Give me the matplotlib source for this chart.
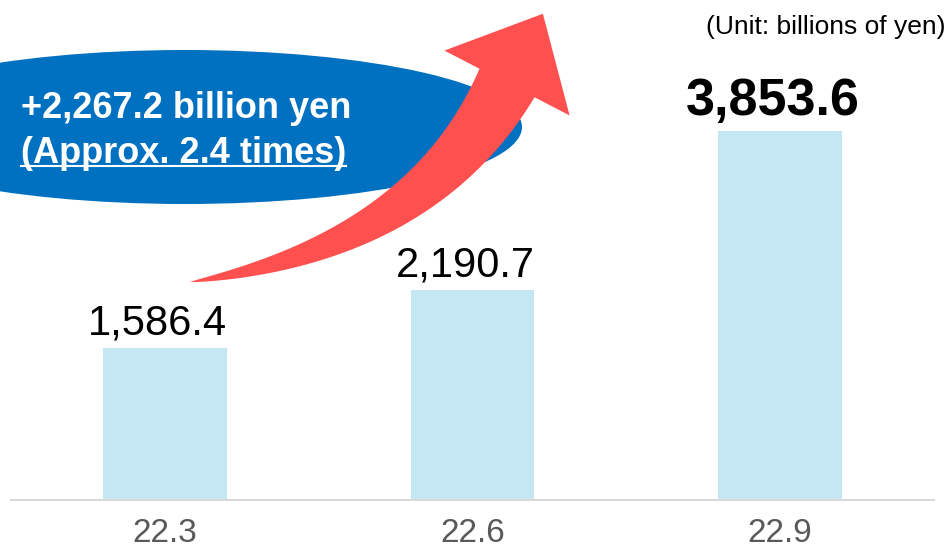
import numpy as np
import matplotlib.pyplot as plt
from matplotlib.patches import Ellipse, Polygon


periods = ['22.3', '22.6', '22.9']
balances = [1586.4, 2190.7, 3853.6]
increase_text = '+2,267.2 billion yen'
ratio_text = '(Approx. 2.4 times)'
unit_text = '(Unit: billions of yen)'

W, H = 948, 552
BAR_COLOR = '#C5E7F3'
BLUE = '#0070C0'
RED = '#FF5050'

plt.rcParams['font.family'] = ['Liberation Sans', 'DejaVu Sans']


def arrow_outline(tail, ctrl, neck, neck_width=62, head_width=141, head_len=78, n=80):
    # tapered shaft along a quadratic bezier, triangular head at the end
    t = np.linspace(0, 1, n)[:, None]
    p0, p1, p2 = (np.asarray(p, dtype=float) for p in (tail, ctrl, neck))
    pts = (1 - t) ** 2 * p0 + 2 * t * (1 - t) * p1 + t ** 2 * p2
    d = 2 * (1 - t) * (p1 - p0) + 2 * t * (p2 - p1)
    d = d / np.linalg.norm(d, axis=1, keepdims=True)
    nrm = np.column_stack([-d[:, 1], d[:, 0]])
    half = neck_width / 2 * t ** 0.8
    side_a = pts + nrm * half
    side_b = pts - nrm * half
    tip = p2 + d[-1] * head_len
    wing_a = p2 + nrm[-1] * head_width / 2
    wing_b = p2 - nrm[-1] * head_width / 2
    return np.vstack([side_a, wing_a, tip, wing_b, side_b[::-1]])


def main():
    fig = plt.figure(figsize=(W / 100, H / 100), dpi=100)

    ax = fig.add_axes([11 / W, 52 / H, 923 / W, 500 / H])
    x = np.arange(len(periods))
    bars = ax.bar(x, balances, width=0.403, color=BAR_COLOR, zorder=2)
    ax.set_xlim(-0.5, 2.5)
    ax.set_ylim(0, 5216)
    for side in ('top', 'left', 'right'):
        ax.spines[side].set_visible(False)
    ax.spines['bottom'].set_color('#D9D9D9')
    ax.spines['bottom'].set_linewidth(1.5)
    ax.set_yticks([])
    ax.set_xticks(x, periods)
    ax.tick_params(axis='x', length=0, pad=13, labelsize=24, labelcolor='#595959')

    labels = ax.bar_label(bars, labels=[f'{v:,.1f}' for v in balances],
                          padding=3, fontsize=30)
    for lab in labels:
        lab.xyann = (-5, 3)
    labels[-1].set_fontsize(37.5)
    labels[-1].set_fontweight('bold')

    # overlay in pixel units for the callout and the arrow
    ov = fig.add_axes([0, 0, 1, 1])
    ov.set_xlim(0, W)
    ov.set_ylim(H, 0)
    ov.axis('off')
    ov.patch.set_alpha(0)

    ov.add_patch(Ellipse((185, 127), 674, 154, color=BLUE, lw=0))
    ov.add_patch(Polygon(arrow_outline((190, 282), (422, 247), (507, 83)),
                         closed=True, color=RED, lw=0))

    ov.text(21, 118, increase_text, color='white', fontsize=26,
            fontweight='bold', va='baseline')
    t2 = ov.text(21, 163, ratio_text, color='white', fontsize=26,
                 fontweight='bold', va='baseline')

    fig.canvas.draw()
    bb = t2.get_window_extent()
    inv = ov.transData.inverted()
    (x0, _), (x1, _) = inv.transform([[bb.x0, bb.y0], [bb.x1, bb.y0]])
    ov.plot([x0, x1], [166, 166], color='white', lw=1.5)

    ov.text(946, 34, unit_text, ha='right', va='baseline', fontsize=19)

    fig.savefig('out.png', dpi=100)


if __name__ == '__main__':
    main()
